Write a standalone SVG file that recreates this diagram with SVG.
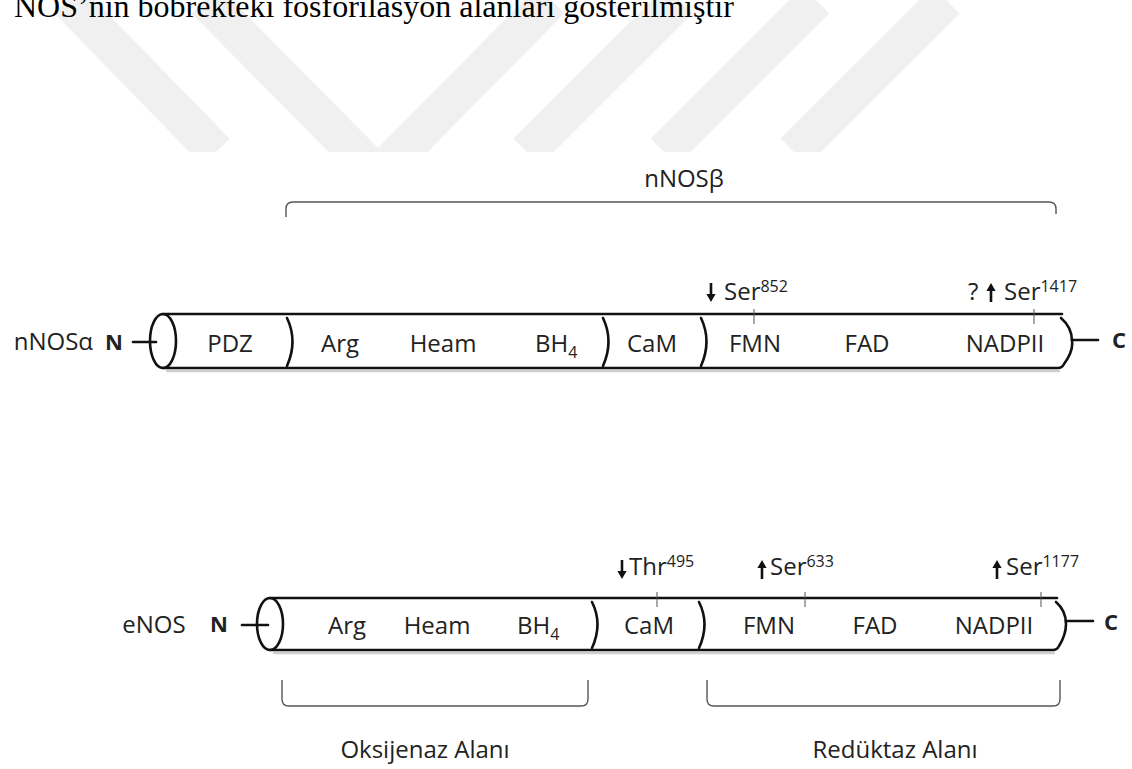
<svg xmlns="http://www.w3.org/2000/svg" width="1132" height="769" viewBox="0 0 1132 769">
<defs>
<clipPath id="wmclip"><rect x="0" y="0" width="1132" height="152"/></clipPath>
<path id="arrDown" d="M-1.3,-19 H1.3 V-8 H4.6 L0,0 L-4.6,-8 H-1.3 Z" fill="#111"/>
<path id="arrUp" d="M-1.3,19 H1.3 V8 H4.6 L0,0 L-4.6,8 H-1.3 Z" fill="#111"/>
<style>
.lbl{font-family:"Open Sans","Liberation Sans",sans-serif;font-size:24px;fill:#222}
.mid{text-anchor:middle}
.end{text-anchor:end}
.bold{font-weight:bold;font-size:22px}
.sup{font-size:16px}
.title{font-family:"Liberation Serif","Times New Roman",serif;font-size:32px;fill:#000}
.cyl{fill:none;stroke:#111;stroke-width:2.6;stroke-linecap:round}
.shadow{fill:none;stroke:#cfcfcf;stroke-width:2.5}
.div{fill:none;stroke:#111;stroke-width:2.6;stroke-linecap:round}
.tick{stroke:#555;stroke-width:1}
.brace{fill:none;stroke:#555;stroke-width:1.4}
.wm{fill:none;stroke:#f0f0f0;stroke-width:38}
</style>
</defs>
<rect width="1132" height="769" fill="#fff"/>

<g id="watermark" clip-path="url(#wmclip)">
<line class="wm" x1="68" y1="0" x2="216" y2="152"/>
<polyline class="wm" points="205,0 378,175 551,0" stroke-linejoin="miter"/>
<line class="wm" x1="527" y1="152" x2="679" y2="0"/>
<line class="wm" x1="664" y1="152" x2="816" y2="0"/>
<line class="wm" x1="794" y1="152" x2="946" y2="0"/>
</g>

<text id="title" class="title" x="14" y="17">NOS’nin böbrekteki fosforilasyon alanları gösterilmiştir</text>

<g id="connectors">
<path class="brace" d="M286,217 L286,209 Q286,202 293,202 L1049,202 Q1056,202 1056,209 L1056,214"/>
<path class="brace" d="M282,680 L282,699 Q282,706 289,706 L581,706 Q588,706 588,699 L588,680"/>
<path class="brace" d="M707,680 L707,699 Q707,706 714,706 L1053,706 Q1060,706 1060,699 L1060,680"/>
<line class="cyl" x1="133" y1="342" x2="156" y2="342"/>
<line class="cyl" x1="1072" y1="340" x2="1098" y2="340"/>
<line class="cyl" x1="242" y1="625" x2="268" y2="625"/>
<line class="cyl" x1="1066" y1="621" x2="1093" y2="621"/>
</g>

<g id="nNOS">
<text class="lbl end" x="93" y="350">nNOSα</text>
<text class="lbl bold mid" x="114" y="350">N</text>
<text class="lbl bold mid" x="1119" y="348">C</text>
<line class="shadow" x1="166" y1="371" x2="1060" y2="371"/>
<path class="cyl" d="M163,314 H1062"/>
<path class="cyl" d="M163,368 H1058 Q1062,368 1064,364 C1070,356 1073,348 1072,341 C1072,332 1068,324 1061,318"/>
<ellipse class="cyl" cx="163" cy="341" rx="13" ry="27" fill="#fff"/>
<path class="div" d="M287,318 Q298,341 287,366"/>
<path class="div" d="M603,318 Q614,341 603,366"/>
<path class="div" d="M701,318 Q712,341 701,366"/>
<line class="tick" x1="754" y1="309" x2="754" y2="324"/>
<line class="tick" x1="1034" y1="309" x2="1034" y2="324"/>
<text class="lbl mid" x="230" y="352">PDZ</text>
<text class="lbl mid" x="340" y="352">Arg</text>
<text class="lbl mid" x="443" y="352">Heam</text>
<text class="lbl" x="535" y="352">BH<tspan class="sup" dy="6">4</tspan></text>
<text class="lbl mid" x="652" y="352">CaM</text>
<text class="lbl mid" x="755" y="352">FMN</text>
<text class="lbl mid" x="867" y="352">FAD</text>
<text class="lbl mid" x="1005" y="352">NADPII</text>
<use href="#arrDown" x="711" y="302"/>
<text class="lbl" x="724" y="300">Ser<tspan class="sup" dy="-8">852</tspan></text>
<text class="lbl" x="968" y="300">?</text>
<use href="#arrUp" x="991" y="283"/>
<text class="lbl" x="1004" y="300">Ser<tspan class="sup" dy="-8">1417</tspan></text>
</g>

<text id="nNOSbeta" class="lbl mid" x="684" y="187">nNOSβ</text>

<g id="eNOS">
<text class="lbl mid" x="154" y="633">eNOS</text>
<text class="lbl bold mid" x="219" y="632">N</text>
<text class="lbl bold mid" x="1111" y="630">C</text>
<line class="shadow" x1="273" y1="653" x2="1055" y2="653"/>
<path class="cyl" d="M270,598 H1057"/>
<path class="cyl" d="M270,650 H1053 Q1057,650 1059,646 C1064,638 1066,630 1066,624 C1066,616 1063,608 1056,602"/>
<ellipse class="cyl" cx="270" cy="624" rx="13" ry="26" fill="#fff"/>
<path class="div" d="M592,602 Q603,624 592,648"/>
<path class="div" d="M699,602 Q710,624 699,648"/>
<line class="tick" x1="657" y1="592" x2="657" y2="607"/>
<line class="tick" x1="805" y1="592" x2="805" y2="607"/>
<line class="tick" x1="1041" y1="592" x2="1041" y2="607"/>
<text class="lbl mid" x="347" y="634">Arg</text>
<text class="lbl mid" x="437" y="634">Heam</text>
<text class="lbl" x="517" y="634">BH<tspan class="sup" dy="6">4</tspan></text>
<text class="lbl mid" x="649" y="634">CaM</text>
<text class="lbl mid" x="769" y="634">FMN</text>
<text class="lbl mid" x="875" y="634">FAD</text>
<text class="lbl mid" x="994" y="634">NADPII</text>
<use href="#arrDown" x="622" y="579"/>
<text class="lbl" x="629" y="575">Thr<tspan class="sup" dy="-8">495</tspan></text>
<use href="#arrUp" x="762" y="560"/>
<text class="lbl" x="770" y="575">Ser<tspan class="sup" dy="-8">633</tspan></text>
<use href="#arrUp" x="997" y="560"/>
<text class="lbl" x="1006" y="575">Ser<tspan class="sup" dy="-8">1177</tspan></text>
</g>

<g id="domains">
<text class="lbl mid" x="425" y="758">Oksijenaz Alanı</text>
<text class="lbl mid" x="895" y="758">Redüktaz Alanı</text>
</g>
</svg>
